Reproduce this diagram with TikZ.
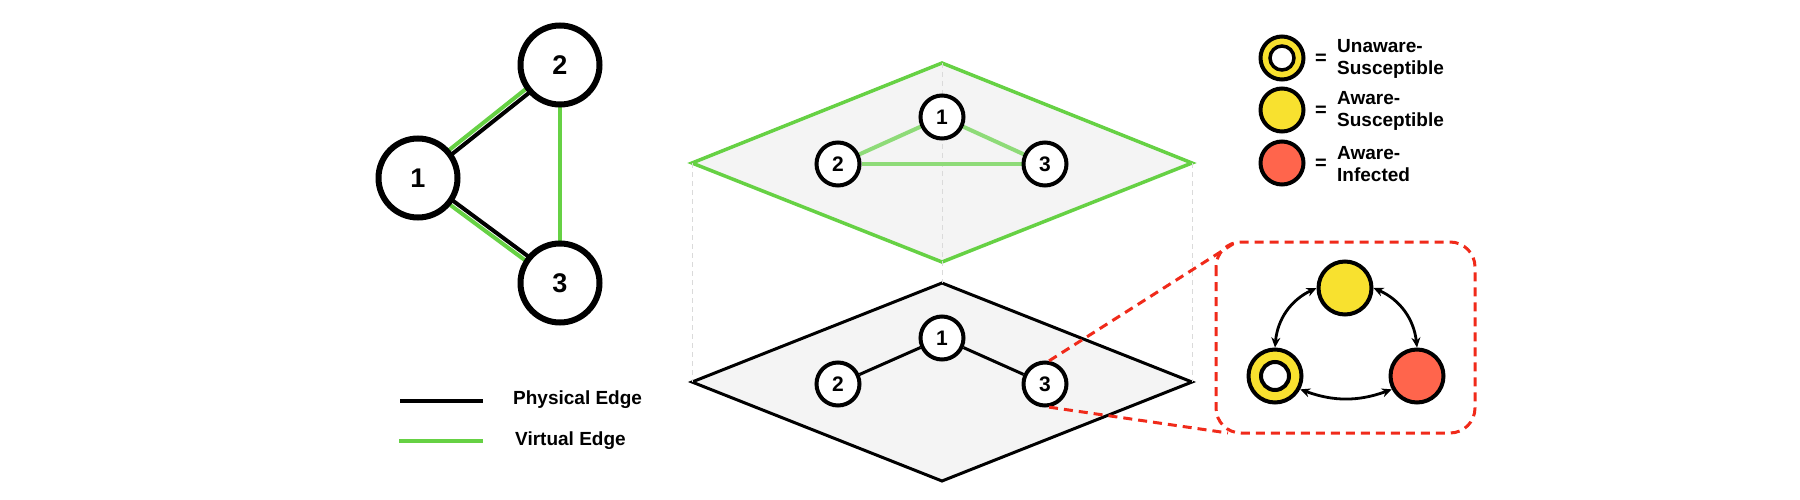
\documentclass[tikz,border=0pt]{standalone}
\usepackage{fontspec}
\setmainfont{Liberation Sans}
\usetikzlibrary{arrows.meta,calc,backgrounds}
\definecolor{vgreen}{HTML}{66D144}
\definecolor{lgreen}{HTML}{8EDB78}
\definecolor{ayellow}{HTML}{F8E12F}
\definecolor{ared}{HTML}{FF654C}
\definecolor{dred}{HTML}{F02A1A}
\definecolor{planefill}{HTML}{F4F4F4}
\definecolor{guidegray}{HTML}{DADADA}
\begin{document}
\begin{tikzpicture}[x=1pt,y=1pt,
  bignode/.style={circle,draw=black,fill=white,line width=6pt,minimum size=79pt,inner sep=0pt,font=\fontsize{27}{27}\selectfont\bfseries},
  smallnode/.style={circle,draw=black,fill=white,line width=4pt,minimum size=43pt,inner sep=0pt,font=\fontsize{21}{21}\selectfont\bfseries},
  statenode/.style={circle,draw=black,line width=4pt,minimum size=53pt,inner sep=0pt},
  innernode/.style={circle,draw=black,fill=white,line width=4pt,minimum size=28pt,inner sep=0pt},
  legnode/.style={circle,draw=black,line width=4pt,minimum size=43pt,inner sep=0pt},
  leginner/.style={circle,draw=black,fill=white,line width=3.5pt,minimum size=24pt,inner sep=0pt},
  legtext/.style={font=\fontsize{19}{22}\selectfont\bfseries,align=left,anchor=west,inner sep=0pt},
  eqtext/.style={font=\fontsize{20}{20}\selectfont\bfseries,inner sep=0pt},
  pedge/.style={line width=4pt,black},
  vedge/.style={line width=4pt,vgreen},
  topedge/.style={line width=4pt,lgreen},
  botedge/.style={line width=3pt,black},
  guideline/.style={guidegray,line width=1pt,dash pattern=on 5pt off 4pt},
  reddash/.style={dred,line width=3pt,dash pattern=on 9pt off 6pt},
  statearrow/.style={line width=2.8pt,{Stealth[length=10pt,width=9pt]}-{Stealth[length=10pt,width=9pt]}}
]
\useasboundingbox (0,0) rectangle (1800,-500);

% ---------- left graph ----------
\node[bignode] (L1) at (418,-178) {1};
\node[bignode] (L2) at (560,-65) {2};
\node[bignode] (L3) at (560,-283) {3};

% ---------- planes ----------
\coordinate (TL) at (692,-163);
\coordinate (TT) at (942,-63);
\coordinate (TR) at (1192,-163);
\coordinate (TB) at (942,-262);
\coordinate (BL) at (692,-382);
\coordinate (BT) at (942,-283);
\coordinate (BR) at (1192,-382);
\coordinate (BB) at (942,-481);

\node[smallnode] (T1) at (942,-117) {1};
\node[smallnode] (T2) at (838,-164) {2};
\node[smallnode] (T3) at (1045,-164) {3};
\node[smallnode] (B1) at (942,-338) {1};
\node[smallnode] (B2) at (838,-384) {2};
\node[smallnode] (B3) at (1045,-384) {3};

\begin{scope}[on background layer]
  % left graph edges
  \draw[vedge] ($(L1)!2.5pt!90:(L2)$) -- ($(L2)!2.5pt!-90:(L1)$);
  \draw[pedge] ($(L1)!2.5pt!-90:(L2)$) -- ($(L2)!2.5pt!90:(L1)$);
  \draw[vedge] ($(L1)!2.5pt!-90:(L3)$) -- ($(L3)!2.5pt!90:(L1)$);
  \draw[pedge] ($(L1)!2.5pt!90:(L3)$) -- ($(L3)!2.5pt!-90:(L1)$);
  \draw[vedge] (L2) -- (L3);
  % bottom plane
  \draw[fill=planefill,draw=black,line width=3pt,line join=miter] (BL) -- (BT) -- (BR) -- (BB) -- cycle;
  % top plane
  \draw[fill=planefill,draw=vgreen,line width=3.5pt,line join=miter] (TL) -- (TT) -- (TR) -- (TB) -- cycle;
  % guides
  \draw[guideline] (TL) -- (BL);
  \draw[guideline] (TT) -- (BT);
  \draw[guideline] (TR) -- (BR);
  % plane edges
  \draw[topedge] (T1) -- (T2);
  \draw[topedge] (T1) -- (T3);
  \draw[topedge] (T2) -- (T3);
  \draw[botedge] (B1) -- (B2);
  \draw[botedge] (B1) -- (B3);
\end{scope}

% ---------- zoom box ----------
\coordinate (RA) at (1233,-244);
\coordinate (RB) at (1228,-433);
\draw[reddash,rounded corners=25pt] (1216,-242) rectangle (1475,-433);
\draw[reddash] (B3.80) -- (RA);
\draw[reddash] (B3.-80) -- (RB);

\node[statenode,fill=ayellow] (SY) at (1345,-288) {};
\node[statenode,fill=ayellow] (SU) at (1275,-376) {};
\node[innernode] (SUi) at (SU) {};
\node[statenode,fill=ared] (SR) at (1417,-376) {};
\draw[statearrow] (SY.west) to[bend right=30] (SU.north);
\draw[statearrow] (SY.east) to[bend left=30] (SR.north);
\draw[statearrow] (SU.-28) to[bend right=20] (SR.208);

% ---------- state legend ----------
\node[legnode,fill=ayellow] (K1) at (1282,-58) {};
\node[leginner] (K1i) at (K1) {};
\node[legnode,fill=ayellow] (K2) at (1282,-110) {};
\node[legnode,fill=ared] (K3) at (1282,-163) {};
\node[eqtext] (E1) at (1321,-59) {=};
\node[eqtext] (E2) at (1321,-111) {=};
\node[eqtext] (E3) at (1321,-164) {=};
\node[legtext] (D1) at (1337,-59) {Unaware-\\Susceptible};
\node[legtext] (D2) at (1337,-111) {Aware-\\Susceptible};
\node[legtext] (D3) at (1337,-164) {Aware-\\Infected};

% ---------- edge legend ----------
\coordinate (PA) at (400,-401);
\coordinate (PB) at (483,-401);
\coordinate (VA) at (399,-441);
\coordinate (VB) at (483,-441);
\draw[pedge] (PA) -- (PB);
\draw[vedge] (VA) -- (VB);
\node[legtext] (PT) at (513,-400) {Physical Edge};
\node[legtext] (VT) at (515,-441) {Virtual Edge};
\end{tikzpicture}
\end{document}
